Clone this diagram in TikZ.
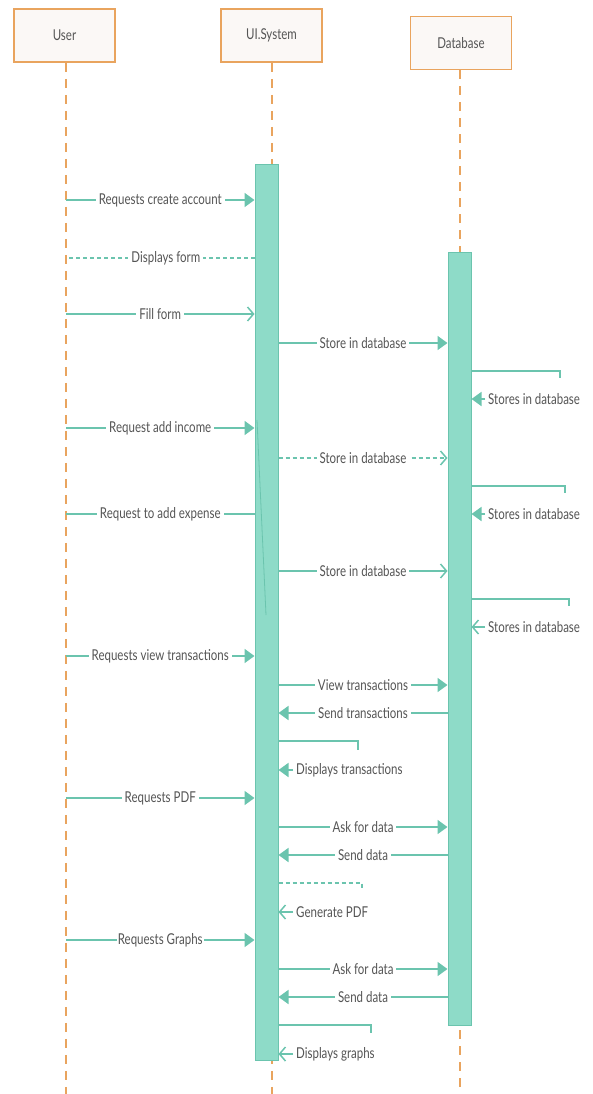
\documentclass[tikz,border=0pt]{standalone}
\usepackage{fontspec}
\setmainfont{Lato}
\usetikzlibrary{arrows.meta}
\definecolor{mint}{HTML}{8EDBC8}
\definecolor{mintdark}{HTML}{6BC4AE}
\definecolor{org}{HTML}{E9A45E}
\definecolor{boxfill}{HTML}{FBF8F6}
\definecolor{txt}{HTML}{555555}
\newcommand\vs[1]{\scalebox{1}[1.3]{#1}}
\begin{document}
\begin{tikzpicture}[x=1pt,y=-1pt,
  head/.style={draw=org, line width=1.8pt, fill=boxfill, minimum width=101pt, minimum height=53pt, inner sep=0pt, font=\fontsize{11.5}{13}\selectfont, text=txt},
  life/.style={draw=org, line width=1.3pt, dash pattern=on 9pt off 7pt},
  bar/.style={draw=mintdark, fill=mint, line width=1pt, minimum width=23pt, inner sep=0pt},
  msg/.style={draw=mintdark, line width=1.8pt},
  lbl/.style={fill=white, text=txt, inner sep=3pt, font=\fontsize{11.5}{13}\selectfont},
  fa/.style={-{Triangle[width=14pt,length=10pt]}},
  oa/.style={-{Straight Barb[width=14pt,length=6pt,line width=1.5pt]}},
  dsh/.style={dash pattern=on 4pt off 3pt}]
\useasboundingbox (0,0) rectangle (593,1094);
% headers
\node[head] (user) at (64.5,35.5) {\vs{User}};
\node[head] (ui) at (271.5,35.5) {\vs{UI.System}};
\node[head] (db) at (461,43) {\vs{Database}};
% lifelines
\coordinate (uend) at (66,1094);
\coordinate (iend) at (272,1094);
\coordinate (dend) at (460,1094);
\draw[life] (user.south -| uend) -- (uend);
\draw[life] (ui.south -| iend) -- (iend);
\draw[life] (db.south -| dend) -- (dend);
% activation bars
\node[bar, minimum height=895pt] (uibar) at (266.5,612.5) {};
\node[bar, minimum height=773pt] (dbbar) at (459.5,638.5) {};
\draw[mintdark, line width=0.8pt] (257,420) -- (266,615);
% messages
\draw[msg,fa] (uend |- 0,200) -- (uibar.west |- 0,200) node[lbl,midway] {\vs{Requests create account}};
\draw[msg,dsh] (uibar.west |- 0,258) -- (uend |- 0,258) node[lbl,pos=0.47] {\vs{Displays form}};
\draw[msg,oa] (uend |- 0,314) -- (uibar.west |- 0,314) node[lbl,midway] {\vs{Fill form}};
\draw[msg,fa] (uibar.east |- 0,343) -- (dbbar.west |- 0,343) node[lbl,midway] {\vs{Store in database}};
\draw[msg] (dbbar.east |- 0,371) -| (560,378);
\node[lbl, anchor=west] (s1) at (485,399) {\vs{Stores in database}};
\draw[msg,fa] (s1.west) -- (dbbar.east |- s1.west);
\draw[msg,fa] (uend |- 0,428) -- (uibar.west |- 0,428) node[lbl,midway] {\vs{Request add income}};
\draw[msg,oa,dsh] (uibar.east |- 0,458) -- (dbbar.west |- 0,458) node[lbl,midway] {\vs{Store in database}};
\draw[msg] (dbbar.east |- 0,486) -| (565,493);
\node[lbl, anchor=west] (s2) at (485,514) {\vs{Stores in database}};
\draw[msg,fa] (s2.west) -- (dbbar.east |- s2.west);
\draw[msg] (uend |- 0,514) -- (uibar.west |- 0,514) node[lbl,midway] {\vs{Request to add expense}};
\draw[msg,oa] (uibar.east |- 0,571) -- (dbbar.west |- 0,571) node[lbl,midway] {\vs{Store in database}};
\draw[msg] (dbbar.east |- 0,599) -| (569,606);
\node[lbl, anchor=west] (s3) at (485,627) {\vs{Stores in database}};
\draw[msg,oa] (s3.west) -- (dbbar.east |- s3.west);
\draw[msg,fa] (uend |- 0,656) -- (uibar.west |- 0,656) node[lbl,midway] {\vs{Requests view transactions}};
\draw[msg,fa] (uibar.east |- 0,685) -- (dbbar.west |- 0,685) node[lbl,midway] {\vs{View transactions}};
\draw[msg,fa] (dbbar.west |- 0,713) -- (uibar.east |- 0,713) node[lbl,midway] {\vs{Send transactions}};
\draw[msg] (uibar.east |- 0,741) -| (358,750);
\node[lbl, anchor=west] (s4) at (293,770) {\vs{Displays transactions}};
\draw[msg,fa] (s4.west) -- (uibar.east |- s4.west);
\draw[msg,fa] (uend |- 0,798) -- (uibar.west |- 0,798) node[lbl,midway] {\vs{Requests PDF}};
\draw[msg,fa] (uibar.east |- 0,827) -- (dbbar.west |- 0,827) node[lbl,midway] {\vs{Ask for data}};
\draw[msg,fa] (dbbar.west |- 0,855) -- (uibar.east |- 0,855) node[lbl,midway] {\vs{Send data}};
\draw[msg,dsh] (uibar.east |- 0,883) -| (362,888);
\node[lbl, anchor=west] (s5) at (293,912) {\vs{Generate PDF}};
\draw[msg,oa] (s5.west) -- (uibar.east |- s5.west);
\draw[msg,fa] (uend |- 0,940) -- (uibar.west |- 0,940) node[lbl,midway,inner sep=1pt] {\vs{Requests Graphs}};
\draw[msg,fa] (uibar.east |- 0,969) -- (dbbar.west |- 0,969) node[lbl,midway] {\vs{Ask for data}};
\draw[msg,fa] (dbbar.west |- 0,997) -- (uibar.east |- 0,997) node[lbl,midway] {\vs{Send data}};
\draw[msg] (uibar.east |- 0,1025) -| (371,1033);
\node[lbl, anchor=west] (s6) at (293,1054) {\vs{Displays graphs}};
\draw[msg,oa] (s6.west) -- (uibar.east |- s6.west);
\end{tikzpicture}
\end{document}
